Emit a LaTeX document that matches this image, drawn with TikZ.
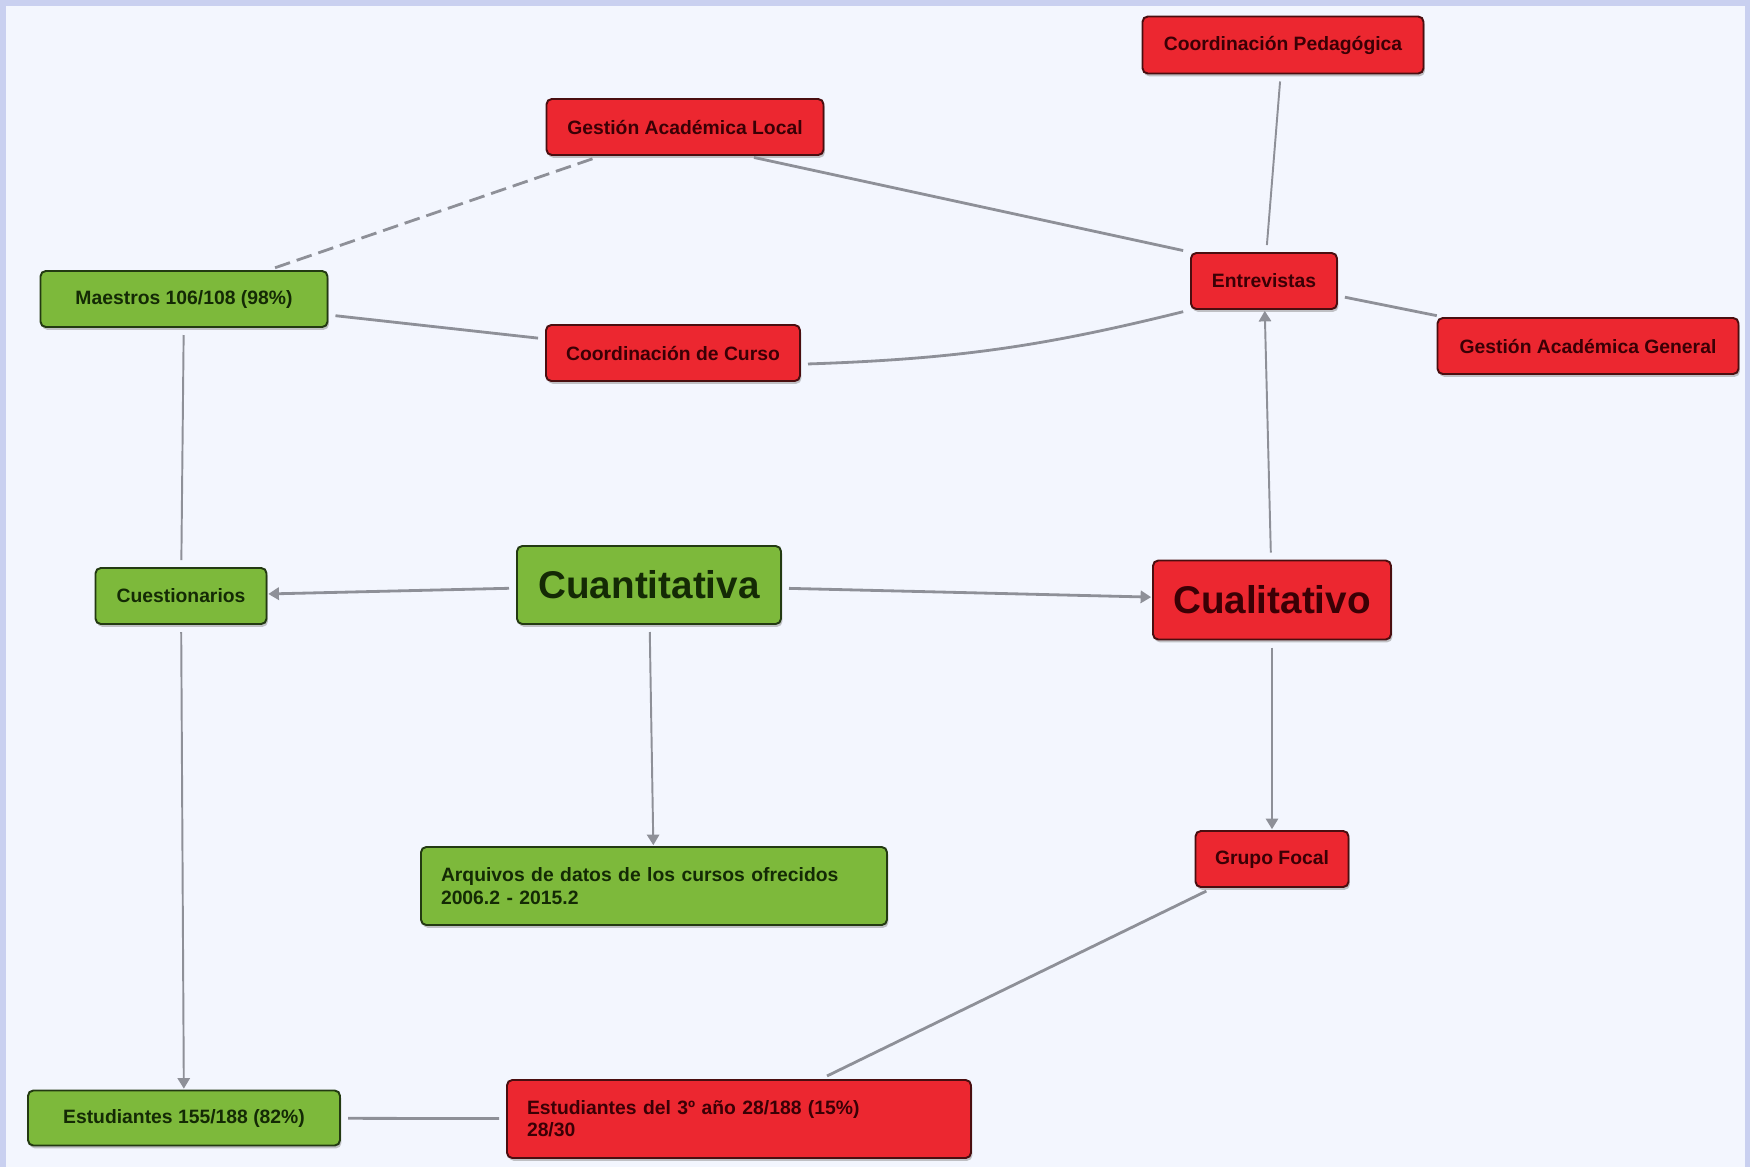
\documentclass[tikz,border=0pt]{standalone}
\usepackage{fontspec}
\setmainfont{Liberation Sans}
\usetikzlibrary{positioning,arrows.meta,shadows}
\definecolor{bgpaper}{HTML}{F3F6FE}
\definecolor{bgframe}{HTML}{C9D0F0}
\definecolor{quantfill}{HTML}{7DB93B}
\definecolor{quantline}{HTML}{233A12}
\definecolor{quanttext}{HTML}{142A05}
\definecolor{qualfill}{HTML}{EC2730}
\definecolor{qualline}{HTML}{4A0E10}
\definecolor{qualtext}{HTML}{3A0005}
\definecolor{linkgray}{HTML}{8E9098}
\tikzset{
  >={Triangle[length=6pt,width=7pt]},
  box/.style={draw, rounded corners=3pt, line width=1.1pt, inner sep=0pt,
    font=\bfseries\fontsize{11}{12.7}\selectfont,
    drop shadow={shadow xshift=0.8pt, shadow yshift=-1.6pt, fill=black!45, opacity=.5}},
  quanti/.style={box, fill=quantfill, draw=quantline, text=quanttext},
  quali/.style={box, fill=qualfill, draw=qualline, text=qualtext},
  big/.style={font=\bfseries\fontsize{22}{26}\selectfont},
  link/.style={draw=linkgray, line width=1.6pt, shorten <=4pt, shorten >=4pt},
  thinlink/.style={link, line width=1.1pt},
  flow/.style={thinlink, ->, shorten >=0.5pt},
}

\begin{document}
\begin{tikzpicture}[x=0.2mm, y=-0.2mm]
  % Background
  \useasboundingbox (0,0) rectangle (1750,1167);
  \fill[bgframe] (0,0) rectangle (1750,1167);
  \fill[bgpaper] (6,6) rectangle (1745,1167);

  % Nodes
  \node[quali, minimum width=5.54cm, minimum height=1.12cm] (gal) at (685,127) {Gestión Académica Local};
  \node[quali, minimum width=5.62cm, minimum height=1.14cm] (cp) at (1283,45) {Coordinación Pedagógica};
  \node[quanti, minimum width=5.74cm, minimum height=1.12cm] (maestros) at (184,299) {Maestros 106/108 (98\%)};
  \node[quali, minimum width=5.08cm, minimum height=1.12cm] (cc) at (673,353) {Coordinación de Curso};
  \node[quali, minimum width=2.92cm, minimum height=1.12cm] (entr) at (1264,281) {Entrevistas};
  \node[quali, minimum width=6.02cm, minimum height=1.12cm] (gag) at (1588,346) {Gestión Académica General};
  \node[quanti, minimum width=3.42cm, minimum height=1.12cm] (cuest) at (181,596) {Cuestionarios};
  \node[quanti, big, minimum width=5.28cm, minimum height=1.56cm] (cuant) at (649,585) {Cuantitativa};
  \node[quali, big, minimum width=4.76cm, minimum height=1.58cm] (cual) at (1272,600) {Cualitativo};
  \node[quanti, text width=8.52cm, inner xsep=0.4cm, align=left, minimum height=1.56cm] (arq) at (654,886)
    {Arquivos de datos de los cursos ofrecidos\\2006.2 - 2015.2};
  \node[quali, minimum width=3.06cm, minimum height=1.12cm] (gf) at (1272,859) {Grupo Focal};
  \node[quanti, minimum width=6.24cm, minimum height=1.1cm] (est) at (184,1118) {Estudiantes 155/188 (82\%)};
  \node[quali, text width=8.48cm, inner xsep=0.4cm, align=left, minimum height=1.56cm] (est3) at (739,1119)
    {Estudiantes del 3º año 28/188 (15\%)\\28/30};

  % Links
  \path
    (maestros) edge[link, dashed, dash pattern=on 9pt off 4pt] (gal)
    (gal.-25) edge[link] (entr.north west)
    (maestros) edge[link] (cc)
    (cc.-5) edge[link, bend right=6] (entr.south west)
    (cp) edge[thinlink] (entr)
    (entr) edge[link] (gag)
    (cual) edge[flow] (entr)
    (cuant) edge[flow, line width=1.6pt] (cuest)
    (cuant) edge[flow, line width=1.6pt] (cual)
    (cuant) edge[flow] (arq)
    (cual) edge[flow] (gf)
    (maestros) edge[thinlink] (cuest)
    (cuest) edge[flow] (est)
    (est) edge[link] (est3)
    (gf) edge[link] (est3);
\end{tikzpicture}
\end{document}
